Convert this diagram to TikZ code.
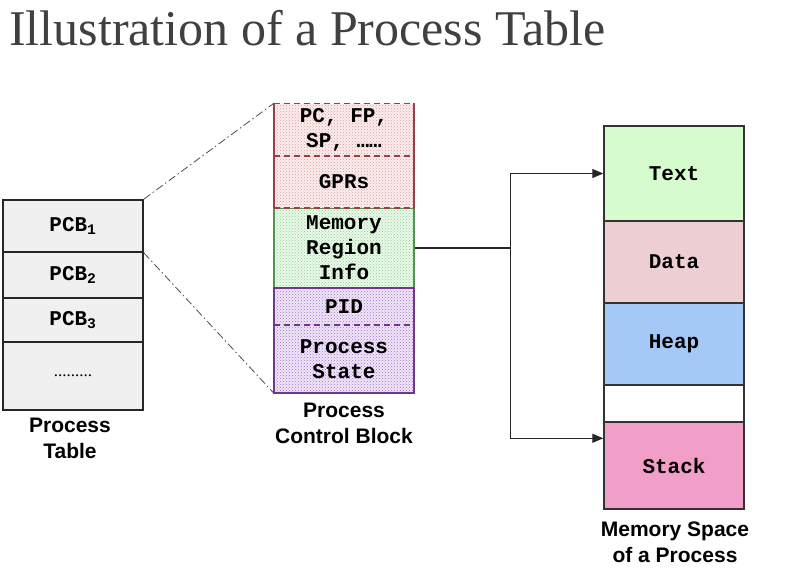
\documentclass[tikz,border=0pt]{standalone}
\usepackage{fontspec}
\setmainfont{Liberation Serif}
\newfontfamily\codefont{Liberation Mono}
\newfontfamily\labelfont{Liberation Sans}
\usetikzlibrary{arrows.meta,patterns,calc}

\definecolor{titlegray}{HTML}{404040}
\definecolor{tablegray}{HTML}{F0F0F0}
\definecolor{regline}{HTML}{9A3F4A}
\definecolor{regbg}{HTML}{FCEEEE}
\definecolor{regdot}{HTML}{D89A9A}
\definecolor{infoline}{HTML}{4F944F}
\definecolor{infobg}{HTML}{EAF9EA}
\definecolor{infodot}{HTML}{8FD08F}
\definecolor{stateline}{HTML}{73368F}
\definecolor{statebg}{HTML}{F1E6F8}
\definecolor{statedot}{HTML}{A070C8}
\definecolor{textbg}{HTML}{D6FBCD}
\definecolor{databg}{HTML}{EDCED3}
\definecolor{heapbg}{HTML}{A5C9F7}
\definecolor{stackbg}{HTML}{F19EC9}

\tikzset{
  field/.style={minimum width=140pt, inner sep=0pt, align=center,
    font=\codefont\bfseries\fontsize{21}{25}\selectfont},
  tablecell/.style={field, draw=black!85, line width=1.6pt, fill=tablegray},
  memcell/.style={field, draw=black!80, line width=1.4pt},
  dotbox/.style 2 args={field, preaction={fill=#1}, pattern=crosshatch dots, pattern color=#2},
  split line/.style={line width=1.6pt, dash pattern=on 6pt off 4pt},
  caption/.style={align=center, font=\labelfont\bfseries\fontsize{21}{26}\selectfont},
  zoomline/.style={black!70, line width=0.8pt, dash pattern=on 8pt off 3pt on 1.5pt off 3pt},
  link/.style={black!85, line width=1.3pt},
  tip/.style={link, -{Triangle[length=11pt,width=9pt]}}
}

\begin{document}
\begin{tikzpicture}[x=1pt, y=-1pt]
  \useasboundingbox (0,0) rectangle (786,581);

  % title
  \node[anchor=base west, inner sep=0pt, text=titlegray, font=\fontsize{50}{50}\selectfont]
    (title) at (9,45) {Illustration of a Process Table};

  % process table
  \node[tablecell, minimum height=52pt] (pcbA) at (73,226) {PCB\textsubscript{1}};
  \node[tablecell, minimum height=46pt] (pcbB) at (73,275) {PCB\textsubscript{2}};
  \node[tablecell, minimum height=44pt] (pcbC) at (73,320) {PCB\textsubscript{3}};
  \node[tablecell, minimum height=68pt, font=\rmfamily\fontsize{17}{17}\selectfont]
    (pcbD) at (73,376) {.........};
  \node[caption] (tablecap) at (70,438) {Process\\Table};

  % process control block
  \node[dotbox={infobg}{infodot}, draw=infoline, line width=1.6pt, minimum height=80pt]
    (info) at (344,248) {Memory\\Region\\Info};
  \node[dotbox={regbg}{regdot}, minimum height=52pt] (regA) at (344,129.5) {PC, FP,\\SP, ……};
  \node[dotbox={regbg}{regdot}, minimum height=52pt] (regB) at (344,181.5) {GPRs};
  \draw[regline, split line] (regA.north west) -- (regA.north east);
  \draw[regline, split line] (regA.south west) -- (regA.south east);
  \draw[regline, split line] (regB.south west) -- (regB.south east);
  \draw[regline, line width=1.6pt] (regA.north west) -- (regB.south west);
  \draw[regline, line width=1.6pt] (regA.north east) -- (regB.south east);
  \node[dotbox={statebg}{statedot}, minimum height=37pt] (pid) at (344,306.5) {PID};
  \node[dotbox={statebg}{statedot}, minimum height=68pt] (state) at (344,359) {Process\\State};
  \draw[stateline, line width=1.6pt] (pid.north west) rectangle (state.south east);
  \draw[stateline, split line] (pid.south west) -- (pid.south east);
  \node[caption] (pcbcap) at (344,423) {Process\\Control Block};

  \draw[zoomline] (pcbA.north east) -- (regA.north west);
  \draw[zoomline] (pcbA.south east) -- (state.south west);

  % memory space
  \node[memcell, fill=textbg, minimum height=95pt] (text) at (674,173.5) {Text};
  \node[memcell, fill=databg, minimum height=82pt] (data) at (674,262) {Data};
  \node[memcell, fill=heapbg, minimum height=82pt] (heap) at (674,344) {Heap};
  \node[memcell, fill=white, minimum height=37pt] (gap) at (674,403.5) {};
  \node[memcell, fill=stackbg, minimum height=87pt] (stack) at (674,465.5) {Stack};
  \node[caption] (memcap) at (675,542) {Memory Space\\of a Process};

  \coordinate (split) at ([xshift=96pt]info.east);
  \coordinate (stackin) at ([yshift=-17pt]stack.north west);
  \draw[link] (info.east) -- (split);
  \draw[tip] (split) |- (text.west);
  \draw[tip] (split) |- (stackin);
\end{tikzpicture}
\end{document}
